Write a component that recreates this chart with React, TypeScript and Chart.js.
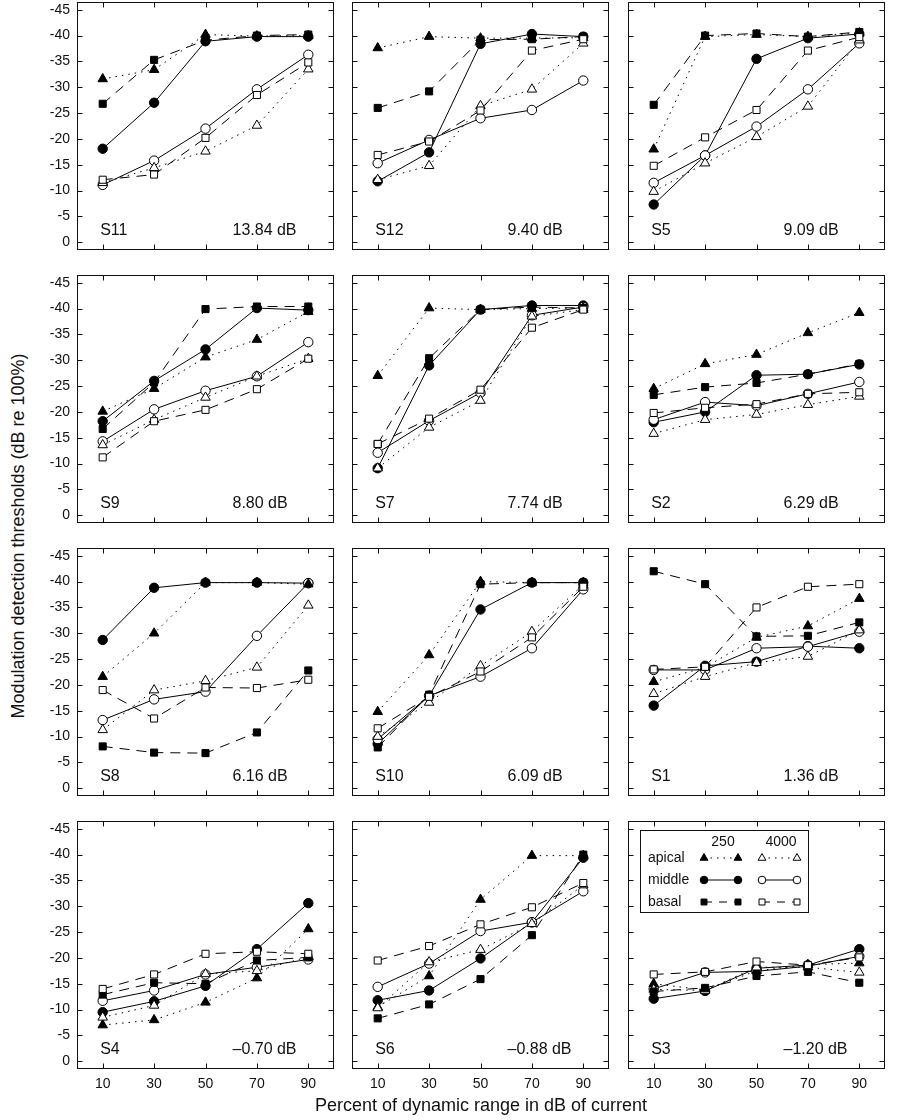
import React, { useEffect, useRef } from 'react';
import { Chart, registerables } from 'chart.js';

Chart.register(...registerables);

const xValues = [10, 30, 50, 70, 90];
const yTicks = [0, -5, -10, -15, -20, -25, -30, -35, -40, -45];
const subjects = ['S11', 'S12', 'S5', 'S9', 'S7', 'S2', 'S8', 'S10', 'S1', 'S4', 'S6', 'S3'];
const gains = ['13.84 dB', '9.40 dB', '9.09 dB', '8.80 dB', '7.74 dB', '6.29 dB', '6.16 dB', '6.09 dB', '1.36 dB', '\u20130.70 dB', '\u20130.88 dB', '\u20131.20 dB'];

// one row per panel (S11, S12, S5, S9, S7, S2, S8, S10, S1, S4, S6, S3)
const apical250 = [
  [-31.6, -33.4, -40.2, -39.9, -40.0],
  [-37.6, -39.8, -39.5, -39.5, -39.6],
  [-18.0, -39.8, -40.2, -39.8, -40.5],
  [-20.1, -24.5, -30.6, -34.0, -39.4],
  [-27.0, -40.1, -39.8, -40.0, -40.1],
  [-24.5, -29.3, -31.1, -35.3, -39.2],
  [-21.6, -30.0, -39.8, -39.8, -39.5],
  [-14.8, -25.8, -40.0, -39.8, -39.8],
  [-20.6, -23.4, -29.2, -31.4, -36.7],
  [-7.0, -8.0, -11.4, -16.1, -25.6],
  [-10.5, -16.5, -31.3, -39.8, -39.8],
  [-15.0, -13.8, -17.5, -18.7, -19.0],
];
const apical4000 = [
  [-11.5, -14.4, -17.6, -22.6, -33.5],
  [-12.1, -14.8, -26.4, -29.6, -38.5],
  [-9.8, -15.3, -20.4, -26.3, -39.1],
  [-13.6, -18.5, -22.8, -26.9, -30.3],
  [-9.1, -17.0, -22.2, -38.5, -39.8],
  [-15.8, -18.5, -19.5, -21.4, -23.0],
  [-11.3, -19.0, -20.8, -23.4, -35.4],
  [-10.0, -16.6, -23.7, -30.3, -39.4],
  [-18.3, -21.6, -24.3, -25.5, -30.6],
  [-8.5, -10.8, -16.9, -17.5, -20.2],
  [-10.3, -19.2, -21.6, -26.6, -34.1],
  [-13.9, -13.7, -18.2, -18.2, -17.2],
];
const middle250 = [
  [-18.1, -27.0, -38.9, -39.8, -39.8],
  [-11.8, -17.4, -38.4, -40.3, -39.8],
  [-7.3, -16.8, -35.5, -39.5, -40.3],
  [-18.2, -26.0, -32.1, -40.1, -39.7],
  [-9.1, -29.0, -39.8, -40.6, -40.6],
  [-18.0, -20.0, -27.1, -27.3, -29.2],
  [-28.7, -38.8, -39.8, -39.8, -39.7],
  [-8.6, -17.9, -34.6, -39.8, -39.8],
  [-16.0, -23.7, -24.5, -27.5, -27.1],
  [-9.5, -11.6, -14.6, -21.7, -30.6],
  [-11.8, -13.7, -19.9, -26.9, -39.4],
  [-12.1, -13.6, -18.0, -18.6, -21.7],
];
const middle4000 = [
  [-11.1, -15.8, -22.0, -29.6, -36.3],
  [-15.3, -19.8, -24.0, -25.6, -31.3],
  [-11.5, -16.8, -22.4, -29.6, -38.5],
  [-14.3, -20.5, -24.1, -26.9, -33.5],
  [-12.1, -18.3, -23.7, -38.7, -40.3],
  [-18.5, -21.9, -21.2, -23.5, -25.8],
  [-13.2, -17.2, -18.7, -29.5, -39.7],
  [-9.5, -17.9, -21.6, -27.1, -38.5],
  [-22.9, -22.9, -27.1, -27.4, -30.3],
  [-11.7, -13.7, -16.8, -18.2, -19.7],
  [-14.4, -18.9, -25.2, -26.9, -32.9],
  [-14.0, -17.2, -17.4, -18.4, -20.3],
];
const basal250 = [
  [-26.8, -35.3, -39.1, -40.0, -40.2],
  [-26.0, -29.2, -39.2, -39.3, -39.8],
  [-26.6, -40.0, -40.4, -39.8, -40.7],
  [-16.7, -25.7, -39.9, -40.4, -40.4],
  [-13.8, -30.4, -39.8, -40.3, -40.1],
  [-23.3, -24.8, -25.6, -27.3, -29.3],
  [-8.1, -6.9, -6.8, -10.8, -22.8],
  [-7.9, -18.1, -39.5, -39.8, -39.8],
  [-42.0, -39.5, -29.4, -29.5, -32.1],
  [-12.9, -15.2, -15.0, -19.5, -20.1],
  [-8.3, -11.0, -15.9, -24.4, -40.0],
  [-13.5, -14.2, -16.5, -17.3, -15.2],
];
const basal4000 = [
  [-12.1, -13.1, -20.2, -28.5, -34.8],
  [-16.9, -19.5, -25.5, -37.1, -39.3],
  [-14.8, -20.3, -25.6, -37.1, -39.7],
  [-11.2, -18.2, -20.4, -24.4, -30.3],
  [-13.8, -18.7, -24.3, -36.3, -39.8],
  [-19.8, -20.8, -21.5, -23.5, -23.8],
  [-19.0, -13.5, -19.5, -19.4, -21.0],
  [-11.6, -17.7, -22.6, -29.2, -39.0],
  [-23.0, -23.5, -35.0, -39.0, -39.5],
  [-14.0, -16.8, -20.8, -21.2, -20.8],
  [-19.5, -22.3, -26.5, -29.8, -34.5],
  [-16.8, -17.3, -19.3, -18.6, -20.1],
];

const legendRows = ['apical', 'middle', 'basal'];
const legendCols = ['250', '4000'];

const FONT = "'Liberation Sans', Arial, Helvetica, sans-serif";
const DOT = [1.5, 5];
const DASH = [10, 7];

const SERIES = [
  { values: basal4000, style: 'rect', filled: false, dash: DASH, radius: 5 },
  { values: basal250, style: 'rect', filled: true, dash: DASH, radius: 5 },
  { values: apical4000, style: 'triangle', filled: false, dash: DOT, radius: 5.5 },
  { values: apical250, style: 'triangle', filled: true, dash: DOT, radius: 5.5 },
  { values: middle4000, style: 'circle', filled: false, dash: [], radius: 4.7 },
  { values: middle250, style: 'circle', filled: true, dash: [], radius: 4.7 },
];

const Y_AXIS_W = 40;
const PAD_T = 6;
const PAD_R = 6;
const X_AXIS_H = 26;
const PLOT_W = 257;
const PLOT_H = 248;
const COL_LEFT = [77, 352, 628];
const ROW_TOP = [2, 275, 548, 821];

function drawMarker(ctx: CanvasRenderingContext2D, style: string, filled: boolean, x: number, y: number, r: number) {
  ctx.beginPath();
  if (style === 'circle') {
    ctx.arc(x, y, r, 0, Math.PI * 2);
  } else if (style === 'rect') {
    const s = r * Math.SQRT1_2;
    ctx.rect(x - s, y - s, 2 * s, 2 * s);
  } else {
    const h = r * 1.5;
    const w = r * Math.sqrt(3);
    ctx.moveTo(x, y - r);
    ctx.lineTo(x + w / 2, y - r + h);
    ctx.lineTo(x - w / 2, y - r + h);
    ctx.closePath();
  }
  ctx.fillStyle = filled ? '#000' : '#fff';
  ctx.fill();
  ctx.lineWidth = 1;
  ctx.strokeStyle = '#000';
  ctx.stroke();
}

const framePlugin = {
  id: 'frame',
  afterDraw(chart: any, _args: any, opts: any) {
    const { ctx, chartArea: a, scales } = chart;
    const xs = scales.x;
    const ys = scales.y;
    ctx.save();
    ctx.strokeStyle = '#111';
    ctx.lineWidth = 1;
    ctx.setLineDash([]);
    const L = Math.round(a.left) + 0.5;
    const R = Math.round(a.right) - 0.5;
    const T = Math.round(a.top) + 0.5;
    const B = Math.round(a.bottom) - 0.5;
    ctx.strokeRect(L, T, R - L, B - T);
    const tl = 5;
    ctx.beginPath();
    xValues.forEach((v) => {
      const px = Math.round(xs.getPixelForValue(v)) + 0.5;
      ctx.moveTo(px, B); ctx.lineTo(px, B - tl);
      ctx.moveTo(px, T); ctx.lineTo(px, T + tl);
    });
    yTicks.forEach((v) => {
      const py = Math.round(ys.getPixelForValue(v)) + 0.5;
      ctx.moveTo(L, py); ctx.lineTo(L + tl, py);
      ctx.moveTo(R, py); ctx.lineTo(R - tl, py);
    });
    ctx.stroke();

    ctx.fillStyle = '#111';
    ctx.font = `16px ${FONT}`;
    ctx.textBaseline = 'middle';
    ctx.textAlign = 'left';
    const ty = ys.getPixelForValue(-2.2);
    ctx.fillText(opts.subject, xs.getPixelForValue(9), ty);
    ctx.fillText(opts.gain, xs.getPixelForValue(60.5), ty);

    if (opts.legend) {
      const lx = a.left + 12;
      const lyTop = a.top + 9;
      ctx.strokeRect(Math.round(lx) + 0.5, Math.round(lyTop) + 0.5, 168, 82);
      ctx.font = `14px ${FONT}`;
      ctx.textAlign = 'center';
      ctx.fillText(legendCols[0], a.left + 95, a.top + 21);
      ctx.fillText(legendCols[1], a.left + 153, a.top + 21);
      const styles = ['triangle', 'circle', 'rect'];
      const dashes = [DOT, [], [8, 7]];
      const radii = [4.5, 3.8, 4.2];
      legendRows.forEach((name, i) => {
        const yy = a.top + 37 + i * 22;
        ctx.textAlign = 'left';
        ctx.fillStyle = '#111';
        ctx.fillText(name, a.left + 20, yy);
        [[76, 110, true], [134, 169, false]].forEach(([x0, x1, filled]: any) => {
          ctx.save();
          ctx.setLineDash(dashes[i]);
          ctx.beginPath();
          ctx.moveTo(a.left + x0, yy);
          ctx.lineTo(a.left + x1, yy);
          ctx.strokeStyle = '#000';
          ctx.lineWidth = 1;
          ctx.stroke();
          ctx.restore();
          drawMarker(ctx, styles[i], filled, a.left + x0, yy, radii[i]);
          drawMarker(ctx, styles[i], filled, a.left + x1, yy, radii[i]);
        });
      });
    }
    ctx.restore();
  },
};

function Panel({ idx }: { idx: number }) {
  const ref = useRef<HTMLCanvasElement | null>(null);
  const row = Math.floor(idx / 3);
  const col = idx % 3;
  const W = Y_AXIS_W + PLOT_W + PAD_R;
  const H = PAD_T + PLOT_H + X_AXIS_H;
  useEffect(() => {
    if (!ref.current) return;
    const datasets = SERIES.map((s) => ({
      data: xValues.map((x, i) => ({ x, y: s.values[idx][i] })),
      borderColor: '#000',
      backgroundColor: s.filled ? '#000' : '#fff',
      pointBackgroundColor: s.filled ? '#000' : '#fff',
      pointBorderColor: '#000',
      pointBorderWidth: 1,
      pointStyle: s.style,
      pointRadius: s.radius,
      borderWidth: 1,
      borderDash: s.dash,
      fill: false,
      tension: 0,
    }));
    const chart = new Chart(ref.current, {
      type: 'line',
      data: { datasets } as any,
      options: {
        animation: false,
        responsive: false,
        maintainAspectRatio: false,
        events: [],
        layout: { autoPadding: false, padding: { top: PAD_T, right: PAD_R, left: 0, bottom: 0 } },
        plugins: {
          legend: { display: false },
          tooltip: { enabled: false },
          frame: { subject: subjects[idx], gain: gains[idx], legend: idx === 11 },
        } as any,
        scales: {
          x: {
            type: 'linear',
            min: 0,
            max: 100,
            grid: { display: false, drawTicks: false },
            border: { display: false },
            ticks: {
              display: row === 3,
              padding: 7,
              color: '#111',
              font: { family: FONT, size: 14 },
              callback: (v: any) => String(v),
            },
            afterBuildTicks: (s: any) => { s.ticks = xValues.map((v) => ({ value: v })); },
            afterFit: (s: any) => {
              s.height = X_AXIS_H;
              s.paddingLeft = 0; s.paddingRight = 0; s.paddingTop = 0; s.paddingBottom = 0;
            },
          },
          y: {
            type: 'linear',
            reverse: true,
            min: -46.5,
            max: 1.5,
            grid: { display: false, drawTicks: false },
            border: { display: false },
            ticks: {
              display: col === 0,
              padding: 7,
              color: '#111',
              font: { family: FONT, size: 14 },
              callback: (v: any) => String(v),
            },
            afterBuildTicks: (s: any) => { s.ticks = yTicks.map((v) => ({ value: v })); },
            afterFit: (s: any) => {
              s.width = Y_AXIS_W;
              s.paddingLeft = 0; s.paddingRight = 0; s.paddingTop = 0; s.paddingBottom = 0;
            },
          },
        },
      } as any,
      plugins: [framePlugin as any],
    });
    return () => chart.destroy();
  }, [idx]);
  return (
    <canvas
      ref={ref}
      width={W}
      height={H}
      style={{
        position: 'absolute',
        left: COL_LEFT[col] - Y_AXIS_W,
        top: ROW_TOP[row] - PAD_T,
        width: W,
        height: H,
      }}
    />
  );
}

export default function App() {
  return (
    <div style={{ position: 'absolute', left: 0, top: 0, width: 897, height: 1120, background: '#fff', overflow: 'hidden' }}>
      {subjects.map((_, i) => (
        <Panel key={i} idx={i} />
      ))}
      <div
        style={{
          position: 'absolute',
          left: 18 - 300,
          top: 536 - 11,
          width: 600,
          height: 22,
          lineHeight: '22px',
          textAlign: 'center',
          transform: 'rotate(-90deg)',
          fontFamily: FONT,
          fontSize: 18,
          color: '#111',
          whiteSpace: 'nowrap',
        }}
      >
        Modulation detection thresholds (dB re 100%)
      </div>
      <div
        style={{
          position: 'absolute',
          left: 481 - 300,
          top: 1094,
          width: 600,
          height: 22,
          lineHeight: '22px',
          textAlign: 'center',
          fontFamily: FONT,
          fontSize: 18,
          color: '#111',
          whiteSpace: 'nowrap',
        }}
      >
        Percent of dynamic range in dB of current
      </div>
    </div>
  );
}
